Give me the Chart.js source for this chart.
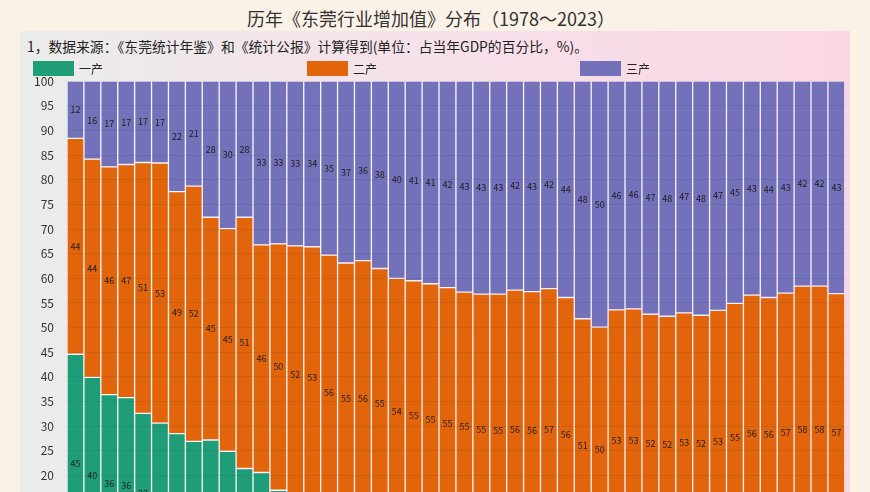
<!DOCTYPE html>
<html>
<head>
<meta charset="utf-8">
<script src="https://cdn.jsdelivr.net/npm/chart.js@4"></script>
<style>
    body { margin: 0; width: 870px; height: 492px; overflow: hidden; background: #faf1e7; font-family: "Noto Sans CJK SC", "Noto Sans", sans-serif; }
    #title { position: absolute; left: 0; top: 6px; width: 862px; text-align: center; font-size: 18px; font-weight: 400; color: #333; line-height: 24px; }
    #panel { position: absolute; left: 20px; top: 31px; width: 830px; height: 640px; background: linear-gradient(to right, #eaecea, #f4e4ea 35%, #fbd7e6); }
    #note { position: absolute; left: 7px; top: 6px; font-size: 13.8px; color: #222; line-height: 18px; white-space: nowrap; }
    .legend-item { position: absolute; top: 30px; height: 15px; font-size: 12px; color: #222; line-height: 15px; z-index: 2; }
    .legend-item span { display: inline-block; width: 41px; height: 15px; vertical-align: top; margin-right: 5px; }
    #chart-box { position: absolute; left: 0; top: 30px; width: 830px; height: 549px; }
</style>
</head>
<body>
<div id="title">历年《东莞行业增加值》分布（1978～2023）</div>
<div id="panel">
    <div id="note">1，数据来源：《东莞统计年鉴》和《统计公报》计算得到(单位：占当年GDP的百分比，%)。</div>
    <div id="chart-box"><canvas id="myChart" width="830" height="549"></canvas></div>
    <div class="legend-item" style="left:13px"><span style="background:#1f9d79"></span>一产</div>
    <div class="legend-item" style="left:287px"><span style="background:#e2650b"></span>二产</div>
    <div class="legend-item" style="left:560px"><span style="background:#7371ba"></span>三产</div>
</div>
<script>
const years = ['1978', '1979', '1980', '1981', '1982', '1983', '1984', '1985', '1986', '1987',
    '1988', '1989', '1990', '1991', '1992', '1993', '1994', '1995', '1996', '1997',
    '1998', '1999', '2000', '2001', '2002', '2003', '2004', '2005', '2006', '2007',
    '2008', '2009', '2010', '2011', '2012', '2013', '2014', '2015', '2016', '2017',
    '2018', '2019', '2020', '2021', '2022', '2023']

// 一产 / 二产 / 三产, % of GDP
const primary = [44.6, 39.9, 36.4, 35.8, 32.6, 30.6, 28.5, 26.9, 27.2, 24.9,
    21.4, 20.6, 17.0, 14.5, 13.4, 9.0, 8.0, 7.6, 7.0, 6.0,
    4.6, 3.8, 3.1, 2.5, 1.8, 1.4, 1.2, 1.0, 0.9, 0.6,
    0.5, 0.4, 0.4, 0.4, 0.4, 0.3, 0.3, 0.3, 0.3, 0.3,
    0.3, 0.3, 0.3, 0.3, 0.3, 0.3]
const secondary = [43.8, 44.3, 46.2, 47.3, 50.9, 52.8, 49.1, 51.8, 45.2, 45.2,
    51.0, 46.2, 50.0, 52.1, 53.0, 55.7, 55.1, 56.0, 55.0, 54.0,
    54.9, 55.1, 55.0, 54.7, 55.0, 55.4, 56.4, 56.3, 57.0, 55.5,
    51.3, 49.7, 53.2, 53.4, 52.3, 52.0, 52.7, 52.2, 53.2, 54.6,
    56.3, 55.8, 56.7, 58.1, 58.1, 56.6]
const tertiary = [11.6, 15.8, 17.4, 16.9, 16.5, 16.6, 22.4, 21.3, 27.6, 29.9,
    27.6, 33.2, 33.0, 33.4, 33.6, 35.3, 36.9, 36.4, 38.0, 40.0,
    40.5, 41.1, 41.9, 42.8, 43.2, 43.2, 42.4, 42.7, 42.1, 43.9,
    48.2, 49.9, 46.4, 46.2, 47.3, 47.7, 47.0, 47.5, 46.5, 45.1,
    43.4, 43.9, 43.0, 41.6, 41.6, 43.1]
const seriesNames = ['一产', '二产', '三产']
const yTicks = { min: 0, max: 100, step: 5 }

// numbers in the middle of every segment
const segmentLabels = {
    id: 'segmentLabels',
    afterDatasetsDraw(chart) {
        const ctx = chart.ctx
        ctx.save()
        ctx.font = '9px "Noto Sans CJK SC"'
        ctx.fillStyle = '#1e1e1e'
        ctx.textAlign = 'center'
        ctx.textBaseline = 'middle'
        chart.data.datasets.forEach((ds, i) => {
            chart.getDatasetMeta(i).data.forEach((bar, j) => {
                ctx.fillText(Math.round(ds.data[j]), bar.x, (bar.y + bar.base) / 2)
            })
        })
        ctx.restore()
    }
}

const barStyle = {
    borderWidth: 1,
    borderColor: 'rgba(255,255,255,0.5)',
    borderSkipped: false,
    barPercentage: 1,
    categoryPercentage: 1
}

new Chart(document.getElementById('myChart'), {
    type: 'bar',
    data: {
        labels: years,
        datasets: [
            { label: seriesNames[0], data: primary, backgroundColor: '#1f9d79', ...barStyle },
            { label: seriesNames[1], data: secondary, backgroundColor: '#e2650b', ...barStyle },
            { label: seriesNames[2], data: tertiary, backgroundColor: '#7371ba', ...barStyle }
        ]
    },
    options: {
        responsive: false,
        maintainAspectRatio: false,
        animation: false,
        layout: { padding: { top: 2, right: 4 } },
        scales: {
            x: {
                stacked: true,
                grid: { display: false },
                border: { display: false },
                ticks: { color: '#333', font: { size: 10 }, maxRotation: 90, autoSkip: false },
                afterFit: scale => { scale.height = 36 }
            },
            y: {
                stacked: true,
                min: yTicks.min,
                max: yTicks.max,
                grid: { color: 'rgba(40,40,80,0.10)', z: 1, drawTicks: false },
                border: { display: false },
                ticks: { stepSize: yTicks.step, color: '#333', font: { size: 12, family: '"Noto Sans CJK SC"' }, padding: 13 },
                afterFit: scale => { scale.width = 47 }
            }
        },
        plugins: {
            legend: { display: false },
            tooltip: { enabled: false }
        }
    },
    plugins: [segmentLabels]
})
</script>
</body>
</html>
